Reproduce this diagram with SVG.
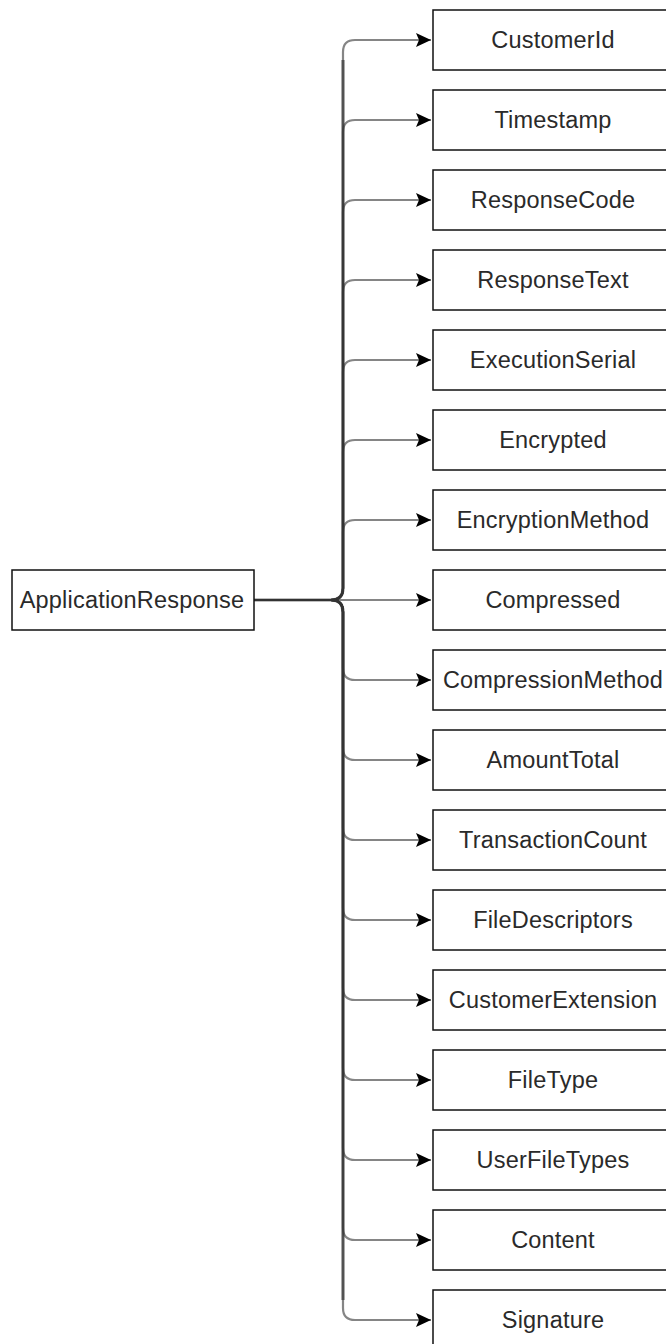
<svg xmlns="http://www.w3.org/2000/svg" width="666" height="1344" viewBox="0 0 666 1344">
<style>
.box{fill:#fff;stroke:#111;stroke-width:1.5}
.lbl{font-family:"Liberation Sans",Arial,sans-serif;font-size:23.5px;fill:#2a2a2a;text-anchor:middle;letter-spacing:0.2px}
.edge{fill:none;stroke:#333;stroke-width:2.2;stroke-opacity:0.6}
.trunk{fill:none;stroke:#000;stroke-width:3.2;stroke-opacity:0.5}
</style>
<defs>
<marker id="arr" markerUnits="userSpaceOnUse" markerWidth="17" markerHeight="16" refX="15" refY="8" orient="auto">
<path d="M0,1 L15,8 L0,15 L3,8 Z" fill="#000"/>
</marker>
</defs>
<g id="connectors">
<path class="trunk" d="M254,600 H331 Q343,600 343,588 V60"/>
<path class="trunk" d="M331,600 Q343,600 343,612 V1300"/>
<path class="edge" marker-end="url(#arr)" d="M254,600 H331 Q343,600 343,588 V52 Q343,40 355,40 H431"/>
<path class="edge" marker-end="url(#arr)" d="M254,600 H331 Q343,600 343,588 V132 Q343,120 355,120 H431"/>
<path class="edge" marker-end="url(#arr)" d="M254,600 H331 Q343,600 343,588 V212 Q343,200 355,200 H431"/>
<path class="edge" marker-end="url(#arr)" d="M254,600 H331 Q343,600 343,588 V292 Q343,280 355,280 H431"/>
<path class="edge" marker-end="url(#arr)" d="M254,600 H331 Q343,600 343,588 V372 Q343,360 355,360 H431"/>
<path class="edge" marker-end="url(#arr)" d="M254,600 H331 Q343,600 343,588 V452 Q343,440 355,440 H431"/>
<path class="edge" marker-end="url(#arr)" d="M254,600 H331 Q343,600 343,588 V532 Q343,520 355,520 H431"/>
<path class="edge" marker-end="url(#arr)" d="M254,600 H431"/>
<path class="edge" marker-end="url(#arr)" d="M254,600 H331 Q343,600 343,612 V668 Q343,680 355,680 H431"/>
<path class="edge" marker-end="url(#arr)" d="M254,600 H331 Q343,600 343,612 V748 Q343,760 355,760 H431"/>
<path class="edge" marker-end="url(#arr)" d="M254,600 H331 Q343,600 343,612 V828 Q343,840 355,840 H431"/>
<path class="edge" marker-end="url(#arr)" d="M254,600 H331 Q343,600 343,612 V908 Q343,920 355,920 H431"/>
<path class="edge" marker-end="url(#arr)" d="M254,600 H331 Q343,600 343,612 V988 Q343,1000 355,1000 H431"/>
<path class="edge" marker-end="url(#arr)" d="M254,600 H331 Q343,600 343,612 V1068 Q343,1080 355,1080 H431"/>
<path class="edge" marker-end="url(#arr)" d="M254,600 H331 Q343,600 343,612 V1148 Q343,1160 355,1160 H431"/>
<path class="edge" marker-end="url(#arr)" d="M254,600 H331 Q343,600 343,612 V1228 Q343,1240 355,1240 H431"/>
<path class="edge" marker-end="url(#arr)" d="M254,600 H331 Q343,600 343,612 V1308 Q343,1320 355,1320 H431"/>
</g>
<g id="ApplicationResponse"><rect class="box" x="12" y="570" width="242" height="60"/><text class="lbl" x="132" y="608">ApplicationResponse</text></g>
<g id="CustomerId"><rect class="box" x="433" y="10" width="240" height="60"/><text class="lbl" x="553" y="48">CustomerId</text></g>
<g id="Timestamp"><rect class="box" x="433" y="90" width="240" height="60"/><text class="lbl" x="553" y="128">Timestamp</text></g>
<g id="ResponseCode"><rect class="box" x="433" y="170" width="240" height="60"/><text class="lbl" x="553" y="208">ResponseCode</text></g>
<g id="ResponseText"><rect class="box" x="433" y="250" width="240" height="60"/><text class="lbl" x="553" y="288">ResponseText</text></g>
<g id="ExecutionSerial"><rect class="box" x="433" y="330" width="240" height="60"/><text class="lbl" x="553" y="368">ExecutionSerial</text></g>
<g id="Encrypted"><rect class="box" x="433" y="410" width="240" height="60"/><text class="lbl" x="553" y="448">Encrypted</text></g>
<g id="EncryptionMethod"><rect class="box" x="433" y="490" width="240" height="60"/><text class="lbl" x="553" y="528">EncryptionMethod</text></g>
<g id="Compressed"><rect class="box" x="433" y="570" width="240" height="60"/><text class="lbl" x="553" y="608">Compressed</text></g>
<g id="CompressionMethod"><rect class="box" x="433" y="650" width="240" height="60"/><text class="lbl" x="553" y="688">CompressionMethod</text></g>
<g id="AmountTotal"><rect class="box" x="433" y="730" width="240" height="60"/><text class="lbl" x="553" y="768">AmountTotal</text></g>
<g id="TransactionCount"><rect class="box" x="433" y="810" width="240" height="60"/><text class="lbl" x="553" y="848">TransactionCount</text></g>
<g id="FileDescriptors"><rect class="box" x="433" y="890" width="240" height="60"/><text class="lbl" x="553" y="928">FileDescriptors</text></g>
<g id="CustomerExtension"><rect class="box" x="433" y="970" width="240" height="60"/><text class="lbl" x="553" y="1008">CustomerExtension</text></g>
<g id="FileType"><rect class="box" x="433" y="1050" width="240" height="60"/><text class="lbl" x="553" y="1088">FileType</text></g>
<g id="UserFileTypes"><rect class="box" x="433" y="1130" width="240" height="60"/><text class="lbl" x="553" y="1168">UserFileTypes</text></g>
<g id="Content"><rect class="box" x="433" y="1210" width="240" height="60"/><text class="lbl" x="553" y="1248">Content</text></g>
<g id="Signature"><rect class="box" x="433" y="1290" width="240" height="60"/><text class="lbl" x="553" y="1328">Signature</text></g>
</svg>
